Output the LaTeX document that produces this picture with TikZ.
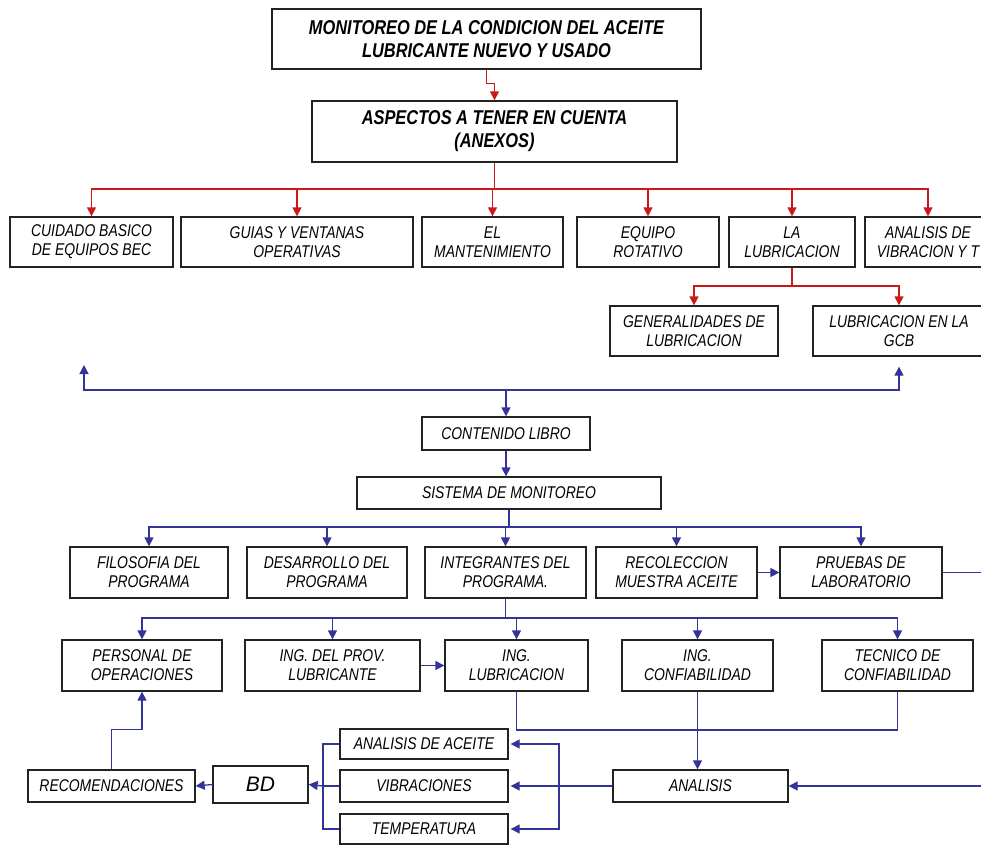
\documentclass[tikz,border=0pt]{standalone}
\usepackage{fontspec}
\setmainfont{Liberation Sans}[FakeStretch=0.82]
\usetikzlibrary{arrows.meta,positioning}
\definecolor{AceiteRed}{RGB}{204,24,24}
\definecolor{AceiteBlue}{RGB}{51,51,153}
\definecolor{AceiteRule}{RGB}{35,35,35}

\begin{document}
\begin{tikzpicture}[x=1pt,y=-1pt,
        box/.style={draw=AceiteRule,line width=1.3pt,align=center,inner sep=1pt,font=\itshape\fontsize{17}{19}\selectfont},
        head/.style={box,font=\bfseries\itshape\fontsize{20}{23}\selectfont},
        sz/.style 2 args={minimum width=#1pt,minimum height=#2pt},
        arrr/.style={-{Triangle[length=9pt,width=9pt]},line width=1.3pt,draw=AceiteRed},
        arrb/.style={-{Triangle[length=9pt,width=9pt]},line width=1.3pt,draw=AceiteBlue},
        lineb/.style={line width=1.3pt,draw=AceiteBlue}
      ]
        \useasboundingbox (0,0) rectangle (981,844);
        \clip (0,0) rectangle (981,844);
        % annexes
        \node[head,sz={429}{60}] (title) at (486.5,39) {MONITOREO DE LA CONDICION DEL ACEITE\\LUBRICANTE NUEVO Y USADO};
        \node[head,sz={365}{61}] (anexos) at (494.5,131.5) {ASPECTOS A TENER EN CUENTA\\(ANEXOS)};
        \node[box,sz={163}{50}] (cuidado) at (91.5,242) {CUIDADO BASICO\\DE EQUIPOS BEC};
        \node[box,sz={232}{50}] (guias) at (297,242) {GUIAS Y VENTANAS\\OPERATIVAS};
        \node[box,sz={141}{50}] (mant) at (492.5,242) {EL\\MANTENIMIENTO};
        \node[box,sz={142}{50}] (equipo) at (648,242) {EQUIPO\\ROTATIVO};
        \node[box,sz={126}{50}] (lubr) at (792,242) {LA\\LUBRICACION};
        \node[box,sz={126}{50}] (vibr) at (928,242) {ANALISIS DE\\VIBRACION Y T};
        \node[box,sz={168}{50}] (gener) at (694,331) {GENERALIDADES DE\\LUBRICACION};
        \node[box,sz={172}{50}] (gcb) at (899,331) {LUBRICACION EN LA\\GCB};
        \draw[arrr] (title.south) -- ++(0,14) -| (anexos.north);
        \coordinate (busa) at (anexos.south |- 0,189);
        \draw[draw=AceiteRed,line width=1.3pt] (anexos.south) -- (busa);
        \foreach \n in {cuidado,guias,mant,equipo,lubr,vibr}
          \draw[arrr] (busa) -| (\n.north);
        \coordinate (busl) at (lubr.south |- 0,286);
        \draw[draw=AceiteRed,line width=1.3pt] (lubr.south) -- (busl);
        \draw[arrr] (busl) -| (gener.north);
        \draw[arrr] (busl) -| (gcb.north);
        % book contents
        \node[box,sz={168}{33}] (libro) at (506,433.5) {CONTENIDO LIBRO};
        \node[box,sz={304}{32}] (sistema) at (509,493) {SISTEMA DE MONITOREO};
        \coordinate (hub) at (libro.north |- 0,390);
        \coordinate (leftend) at (84,365);
        \draw[arrb] (hub) -- (libro.north);
        \draw[arrb] (hub) -| (leftend);
        \draw[arrb,shorten >=10pt] (hub) -| (gcb.south);
        \draw[arrb] (libro.south) -- (libro.south |- sistema.north);
        % program
        \node[box,sz={158}{51}] (filos) at (149,572.5) {FILOSOFIA DEL\\PROGRAMA};
        \node[box,sz={160}{51}] (desarr) at (327,572.5) {DESARROLLO DEL\\PROGRAMA};
        \node[box,sz={161}{51}] (integ) at (505.5,572.5) {INTEGRANTES DEL\\PROGRAMA.};
        \node[box,sz={161}{51}] (recol) at (676.5,572.5) {RECOLECCION\\MUESTRA ACEITE};
        \node[box,sz={162}{51}] (pruebas) at (861,572.5) {PRUEBAS DE\\LABORATORIO};
        \coordinate (busp) at (sistema.south |- 0,527);
        \draw[lineb] (sistema.south) -- (busp);
        \foreach \n in {filos,desarr,integ,recol,pruebas}
          \draw[arrb] (busp) -| (\n.north);
        \draw[arrb] (recol.east) -- (pruebas.west);
        % team
        \node[box,sz={160}{51}] (personal) at (142,665.5) {PERSONAL DE\\OPERACIONES};
        \node[box,sz={175}{51}] (ingprov) at (332.5,665.5) {ING. DEL PROV.\\LUBRICANTE};
        \node[box,sz={143}{51}] (inglub) at (516.5,665.5) {ING.\\LUBRICACION};
        \node[box,sz={151}{51}] (ingconf) at (697.5,665.5) {ING.\\CONFIABILIDAD};
        \node[box,sz={151}{51}] (tecnico) at (897.5,665.5) {TECNICO DE\\CONFIABILIDAD};
        \coordinate (busi) at (integ.south |- 0,618);
        \draw[lineb] (integ.south) -- (busi);
        \foreach \n in {personal,ingprov,inglub,ingconf,tecnico}
          \draw[arrb] (busi) -| (\n.north);
        \draw[lineb,line width=2.6pt] (busi) -- (busi -| ingprov.north);
        \draw[arrb] (ingprov.east) -- (inglub.west);
        % analysis
        \node[box,sz={175}{32}] (analisis) at (700.5,786) {ANALISIS};
        \node[box,sz={168}{30}] (aceite) at (424,744) {ANALISIS DE ACEITE};
        \node[box,sz={168}{32}] (vibra) at (424,786) {VIBRACIONES};
        \node[box,sz={168}{30}] (temp) at (424,829) {TEMPERATURA};
        \node[box,sz={95}{37},font=\itshape\fontsize{21}{24}\selectfont\addfontfeature{FakeStretch=1}] (bd) at (260.5,784.5) {BD};
        \node[box,sz={167}{32}] (recom) at (111.5,786) {RECOMENDACIONES};
        \draw[lineb] (inglub.south) |- (0,730 -| ingconf.south) -| (tecnico.south);
        \draw[arrb] (ingconf.south) -- (ingconf.south |- analisis.north);
        \draw[arrb] (pruebas.east) -- ++(60,0) |- (analisis.east);
        \coordinate (split) at (559,786);
        \draw[lineb,line width=2.6pt] (analisis.west) -- (split);
        \foreach \n in {aceite,vibra,temp}
          \draw[arrb,shorten >=2pt] (split) |- (\n.east);
        \coordinate (join) at (323,786);
        \foreach \n in {aceite,vibra,temp}
          \draw[lineb] (\n.west) -| (join);
        \draw[arrb] (join) -- (bd.east);
        \draw[arrb] (bd.west) -- (recom.east);
        \draw[arrb] (recom.north) -- ++(0,-40) -| (personal.south);
      \end{tikzpicture}
\end{document}
